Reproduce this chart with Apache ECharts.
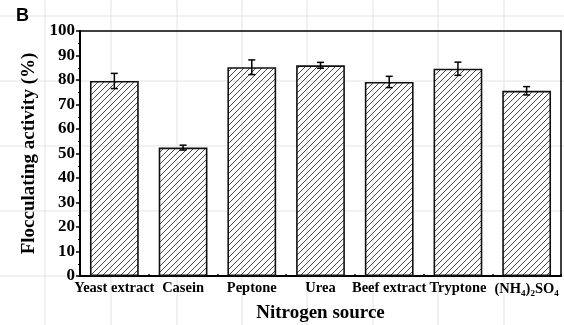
<!DOCTYPE html>
<html>
<head>
<meta charset="utf-8">
<script src="https://cdn.jsdelivr.net/npm/echarts@6/dist/echarts.min.js"></script>
<style>html,body{margin:0;padding:0;background:#fff;}#c{width:564px;height:325px;}</style>
</head>
<body>
<div id="c"></div>
<script>
const categories = ['Yeast extract', 'Casein', 'Peptone', 'Urea', 'Beef extract', 'Tryptone', '(NH4)2SO4'];
const values = [79.6, 52.4, 85.2, 86.0, 79.2, 84.6, 75.6];
const errors = [3.1, 1.0, 3.0, 1.2, 2.3, 2.7, 1.7];
const yTicks = [0, 10, 20, 30, 40, 50, 60, 70, 80, 90, 100];

// hatch pattern
const pc = document.createElement('canvas');
pc.width = 6; pc.height = 6;
const g = pc.getContext('2d');
g.strokeStyle = '#4a4a4a'; g.lineWidth = 1;
g.beginPath();
g.moveTo(-1, 7); g.lineTo(7, -1);
g.moveTo(-4, 4); g.lineTo(4, -4);
g.moveTo(2, 10); g.lineTo(10, 2);
g.stroke();

const serif = '"Liberation Serif", "Times New Roman", serif';

// faint page grid lines (background decoration)
const bgX = [45, 111, 177, 242, 307, 373, 438, 504];
const bgY = [16, 81, 146, 211, 276];
const bg = [];
bgX.forEach(x => bg.push({type:'line', z:-10, shape:{x1:x, y1:0, x2:x, y2:325}, style:{stroke:'#e3e3e3', lineWidth:1}}));
bgY.forEach(y => bg.push({type:'line', z:-10, shape:{x1:0, y1:y, x2:564, y2:y}, style:{stroke:'#e3e3e3', lineWidth:1}}));
bg.push({type:'text', left:16, top:7, style:{text:'B', font:'bold 18px "Liberation Sans", Arial, sans-serif', fill:'#000'}});

const chart = echarts.init(document.getElementById('c'), null, {renderer:'canvas'});
chart.setOption({
  animation: false,
  backgroundColor: '#fff',
  graphic: bg,
  grid: {left: 80, right: 3, top: 31, bottom: 49, outerBoundsMode: 'none', containLabel: false,
    show: true, borderColor: '#000', borderWidth: 1.5, backgroundColor: 'transparent'},
  xAxis: {
    type: 'category',
    data: categories,
    name: 'Nitrogen source',
    nameLocation: 'middle',
    nameGap: 28,
    nameTextStyle: {fontFamily: serif, fontWeight: 'bold', fontSize: 19, color: '#000'},
    axisLine: {lineStyle: {color: '#000', width: 2}},
    axisTick: {show: true, inside: true, length: 2, lineStyle: {color: '#000', width: 1.5}},
    axisLabel: {
      fontFamily: serif, fontWeight: 'bold', fontSize: 14.5, color: '#000', margin: 5, interval: 0,
      hideOverlap: false,
      formatter: function (v) {
        if (v === '(NH4)2SO4') return '(NH{s|4}){s|2}SO{s|4}';
        return v;
      },
      rich: {s: {fontFamily: serif, fontWeight: 'bold', fontSize: 9, color: '#000', padding: [8, 0, 0, 0]}}
    },
    splitLine: {show: false}
  },
  yAxis: {
    type: 'value',
    min: 0, max: 100, interval: 10,
    name: 'Flocculating activity (%)',
    nameLocation: 'middle',
    nameGap: 38,
    nameTextStyle: {fontFamily: serif, fontWeight: 'bold', fontSize: 19, color: '#000'},
    axisLine: {show: true, lineStyle: {color: '#000', width: 2}},
    axisTick: {show: true, inside: false, length: 4, lineStyle: {color: '#000', width: 1.5}},
    minorTick: {show: true, splitNumber: 2, length: 2, lineStyle: {color: '#000', width: 1}},
    axisLabel: {fontFamily: serif, fontWeight: 'bold', fontSize: 17, color: '#000', margin: 5,
      formatter: v => yTicks.indexOf(v) >= 0 ? String(v) : ''},
    splitLine: {show: false}
  },
  series: [
    {
      type: 'bar',
      data: values,
      barWidth: '71%',
      itemStyle: {color: {image: pc, repeat: 'repeat'}, borderColor: '#111', borderWidth: 1.6},
      z: 2
    },
    {
      type: 'custom',
      z: 5,
      data: values.map((v, i) => [i, v - errors[i], v + errors[i]]),
      renderItem: function (params, api) {
        const i = api.value(0);
        const lo = api.coord([i, api.value(1)]);
        const hi = api.coord([i, api.value(2)]);
        const w = 3.5;
        const st = {stroke: '#000', lineWidth: 1.5};
        return {type: 'group', children: [
          {type: 'line', shape: {x1: hi[0], y1: hi[1], x2: lo[0], y2: lo[1]}, style: st},
          {type: 'line', shape: {x1: hi[0] - w, y1: hi[1], x2: hi[0] + w, y2: hi[1]}, style: st},
          {type: 'line', shape: {x1: lo[0] - w, y1: lo[1], x2: lo[0] + w, y2: lo[1]}, style: st}
        ]};
      }
    }
  ]
});
</script>
</body>
</html>
